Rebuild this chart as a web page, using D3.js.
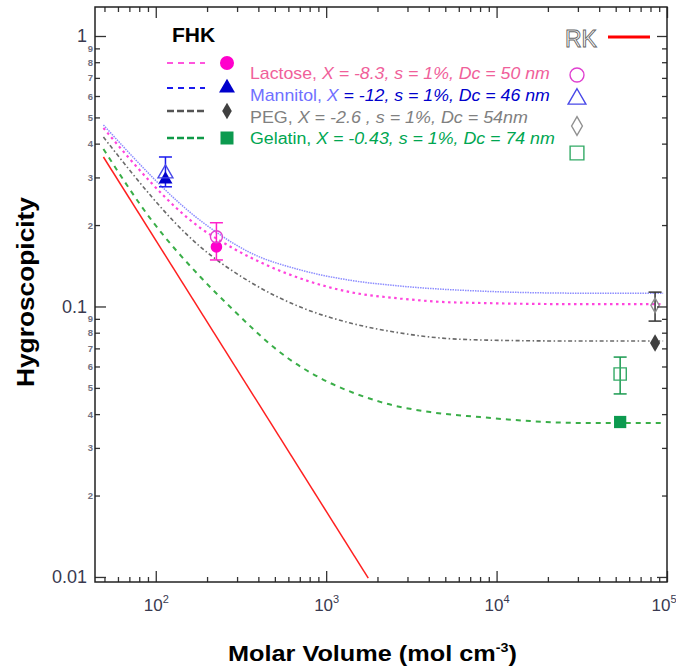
<!DOCTYPE html>
<html>
<head>
<meta charset="utf-8">
<script src="https://cdn.jsdelivr.net/npm/d3@7"></script>
<style>
  body { margin: 0; background: #fff; }
  svg { display: block; font-family: Arial, "Liberation Sans", sans-serif; }
</style>
</head>
<body>
<svg id="chart" width="676" height="669"></svg>
<script>
// ---- data (V in mol cm-3, kappa) ----
const lactoseV = [49.3, 183, 285, 705, 1384, 2720, 4670, 8020, 30900, 94900];
const lactoseK = [0.457, 0.195, 0.164, 0.127, 0.113, 0.107, 0.104, 0.103, 0.102, 0.102];
const mannitolV = [49.3, 190, 359, 705, 1384, 2720, 8020, 30900, 94900];
const mannitolK = [0.469, 0.204, 0.158, 0.1365, 0.125, 0.119, 0.114, 0.112, 0.112];
const pegV = [49.3, 183, 359, 705, 1384, 2720, 4080, 8020, 30900, 94900];
const pegK = [0.423, 0.166, 0.123, 0.0995, 0.0869, 0.0798, 0.0771, 0.0752, 0.0745, 0.0745];
const gelatinV = [49.3, 97, 183, 285, 516, 2075, 4080, 8020, 15740, 30900, 94900];
const gelatinK = [0.382, 0.204, 0.1285, 0.0971, 0.069, 0.0444, 0.0407, 0.039, 0.0377, 0.0371, 0.0371];
const rkV = [49.3, 1766];
const rkK = [0.357, 0.0099];

// measured (open) and FHK (filled) points
const pointNames = ["Lactose", "Mannitol", "PEG", "Gelatin"];
const pointV = [227, 114, 85100, 53100];
const openK = [0.181, 0.31, 0.101, 0.0563];
const openLo = [0.1486, 0.277, 0.0883, 0.0475];
const openHi = [0.204, 0.357, 0.113, 0.065];
const filledK = [0.166, 0.295, 0.0733, 0.0374];

const legendLabels = [
  [["Lactose, ", 0], ["X = -8.3, s = 1%, Dc = 50 nm", 1]],
  [["Mannitol, ", 0], ["X", 1], [" = -12, s = 1%, Dc = 46 nm", 2]],
  [["PEG, ", 0], ["X = -2.6 , s = 1%, Dc = 54nm", 1]],
  [["Gelatin, ", 0], ["X = -0.43, s = 1%, Dc = 74 nm", 1]]
];

const xMajor = [100, 1000, 10000, 100000];
const yMajor = [0.01, 0.1, 1];

// ---- styles ----
const svg = d3.select("#chart");
const x = d3.scaleLog().domain([44, 1e5]).range([95, 667]);
const y = d3.scaleLog().domain([0.00958, 1.28]).range([582, 7]);

const series = [
  { v: lactoseV, k: lactoseK, color: "#ff44dd", w: 2.2, dash: "2.5,3.5" },
  { v: mannitolV, k: mannitolK, color: "#8c8cff", w: 1.5, dash: "1.5,1" },
  { v: pegV, k: pegK, color: "#6a6a6a", w: 1.6, dash: "4,2.5,1.5,2.5" },
  { v: gelatinV, k: gelatinK, color: "#3aae48", w: 2, dash: "5,5" },
  { v: rkV, k: rkK, color: "#ff2020", w: 1.5, dash: null }
];
const markerTypes = [d3.symbolCircle, d3.symbolTriangle, d3.symbolDiamond, d3.symbolSquare];
const filledColor = ["#ff00cc", "#0000cc", "#404040", "#0c9a4f"];
const openColor = ["#e040d0", "#4848e8", "#909090", "#33aa66"];
const errColor = ["#ff22cc", "#1a1aee", "#333333", "#1a9a50"];
const filledSize = [105, 85, 90, 150];
const openSize = [113, 97, 60, 150];
const textColors = [
  ["#f0609a", "#f0609a"],
  ["#7070ff", "#7070ff", "#0000cc"],
  ["#808080", "#808080"],
  ["#00a651", "#00a651"]
];

// minor ticks
const xMinor = [];
[10, 100, 1000, 10000].forEach(d => { for (let i = 2; i <= 9; i++) if (d * i > 44) xMinor.push(d * i); });
const yMinor = [];
[0.01, 0.1].forEach(d => { for (let i = 2; i <= 9; i++) yMinor.push(d * i); });

// ---- curves ----
const line = d3.line().x(d => x(d[0])).y(d => y(d[1])).curve(d3.curveMonotoneX);
const curveG = svg.append("g").attr("fill", "none");
series.forEach(s => {
  curveG.append("path")
    .attr("d", line(s.v.map((v, i) => [v, s.k[i]])))
    .attr("stroke", s.color)
    .attr("stroke-width", s.w)
    .attr("stroke-dasharray", s.dash);
});

// ---- points ----
const ptG = svg.append("g");
pointV.forEach((v, i) => {
  const px = x(v);
  // error bar on the measured point
  ptG.append("line").attr("x1", px).attr("x2", px)
    .attr("y1", y(openHi[i])).attr("y2", y(openLo[i]))
    .attr("stroke", errColor[i]).attr("stroke-width", 1.5);
  [openHi[i], openLo[i]].forEach(e => {
    ptG.append("line").attr("x1", px - 6.5).attr("x2", px + 6.5)
      .attr("y1", y(e)).attr("y2", y(e))
      .attr("stroke", errColor[i]).attr("stroke-width", 1.5);
  });
  ptG.append("path")
    .attr("d", d3.symbol().type(markerTypes[i]).size(filledSize[i])())
    .attr("transform", `translate(${px},${y(filledK[i])})`)
    .attr("fill", filledColor[i]);
  ptG.append("path")
    .attr("d", d3.symbol().type(markerTypes[i]).size(openSize[i])())
    .attr("transform", `translate(${px},${y(openK[i])})`)
    .attr("fill", "none").attr("stroke", openColor[i]).attr("stroke-width", 1.4);
});

// ---- axes (ticks inside the frame) ----
function styleAxis(g) {
  g.select(".domain").remove();
  g.selectAll(".tick line").attr("stroke", "#333").attr("stroke-width", 1.3);
}
const axG = svg.append("g");
axG.append("g").attr("transform", "translate(0,582)")
  .call(d3.axisBottom(x).tickValues(xMinor).tickSize(-5).tickFormat(""))
  .call(styleAxis);
const xb = axG.append("g").attr("transform", "translate(0,582)")
  .call(d3.axisBottom(x).tickValues(xMajor).tickSize(-11).tickFormat(""))
  .call(styleAxis);
xb.selectAll(".tick text")
  .attr("y", 29).attr("dy", 0)
  .style("font-size", "17px").attr("fill", "#3a3a50")
  .attr("text-anchor", d => d === 1e5 ? "end" : "middle")
  .attr("x", d => d === 1e5 ? 9 : 0)
  .call(t => {
    t.append("tspan").text("10");
    t.append("tspan").attr("dy", -8).style("font-size", "11px")
      .text(d => Math.round(Math.log10(d)));
  });
axG.append("g").attr("transform", "translate(0,7)")
  .call(d3.axisTop(x).tickValues(xMinor).tickSize(-5).tickFormat(""))
  .call(styleAxis);
axG.append("g").attr("transform", "translate(0,7)")
  .call(d3.axisTop(x).tickValues(xMajor).tickSize(-11).tickFormat(""))
  .call(styleAxis);

const yl = axG.append("g").attr("transform", "translate(95,0)")
  .call(d3.axisLeft(y).tickValues(yMinor).tickSize(-5).tickPadding(2)
    .tickFormat(d => Math.round(d / Math.pow(10, Math.floor(Math.log10(d) + 1e-9)))))
  .call(styleAxis);
yl.selectAll(".tick text").attr("font-size", 9.5).attr("fill", "#707080").attr("font-weight", "bold");
const yL = axG.append("g").attr("transform", "translate(95,0)")
  .call(d3.axisLeft(y).tickValues(yMajor).tickSize(-11).tickPadding(8)
    .tickFormat(d => d === 1 ? "1" : String(d)))
  .call(styleAxis);
yL.selectAll(".tick text").attr("font-size", 18).attr("fill", "#3a3a50");

axG.append("g").attr("transform", "translate(667,0)")
  .call(d3.axisRight(y).tickValues(yMinor).tickSize(-5).tickFormat(""))
  .call(styleAxis);
axG.append("g").attr("transform", "translate(667,0)")
  .call(d3.axisRight(y).tickValues(yMajor).tickSize(-10).tickFormat(""))
  .call(styleAxis);

// frame
svg.append("rect").attr("x", 95).attr("y", 7).attr("width", 572).attr("height", 575)
  .attr("fill", "none").attr("stroke", "#222").attr("stroke-width", 1.5);

// ---- axis titles ----
svg.append("text")
  .attr("transform", "translate(34,292) rotate(-90)")
  .attr("text-anchor", "middle")
  .attr("font-size", 23).attr("font-weight", "bold")
  .attr("textLength", 190).attr("lengthAdjust", "spacingAndGlyphs")
  .text("Hygroscopicity");
const xt = svg.append("text")
  .attr("x", 228).attr("y", 661)
  .attr("font-size", 23).attr("font-weight", "bold");
xt.append("tspan").text("Molar Volume (mol cm");
xt.append("tspan").attr("dy", -9).attr("font-size", 13).text("-3");
xt.append("tspan").attr("dy", 9).text(")");
{
  const w = xt.node().getComputedTextLength();
  xt.attr("transform", `translate(228,0) scale(${289 / w},1) translate(-228,0)`);
}

// ---- legend ----
const lg = svg.append("g");
lg.append("text").attr("x", 172).attr("y", 42)
  .attr("font-size", 21).attr("font-weight", "bold").text("FHK");
const legLineColor = ["#ff55dd", "#1a1aee", "#555555", "#109a48"];
const legLineDash = ["6,5", "6,5", "7,3", "7,3"];
const legLineW = [2, 2, 2.5, 2.5];
const legY = [63, 88, 111, 138];
const legMarkSize = [154, 110, 80, 169];
const textBase = [79, 101, 123, 144];
const textWidth = [300, 300, 278, 305];
legY.forEach((ly, i) => {
  lg.append("line").attr("x1", 167).attr("x2", 205).attr("y1", ly).attr("y2", ly)
    .attr("stroke", legLineColor[i]).attr("stroke-width", legLineW[i])
    .attr("stroke-dasharray", legLineDash[i]);
  lg.append("path")
    .attr("d", d3.symbol().type(markerTypes[i]).size(legMarkSize[i])())
    .attr("transform", `translate(227,${ly})`)
    .attr("fill", filledColor[i]);
  const t = lg.append("text").attr("font-size", 16);
  legendLabels[i].forEach((p, j) => {
    t.append("tspan").text(p[0])
      .attr("fill", textColors[i][j])
      .attr("font-style", p[1] ? "italic" : "normal");
  });
  const w = t.node().getComputedTextLength();
  t.attr("transform", `translate(250,${textBase[i]}) scale(${textWidth[i] / w},1)`);
  // open marker column
  lg.append("path")
    .attr("d", d3.symbol().type(markerTypes[i]).size(openSize[i] + 40)())
    .attr("transform", `translate(577,${[75, 99, 126, 153][i]})`)
    .attr("fill", "none").attr("stroke", openColor[i]).attr("stroke-width", 1.4);
});
lg.append("text").attr("x", 565).attr("y", 47)
  .attr("font-size", 23).attr("fill", "#fff").attr("stroke", "#666").attr("stroke-width", 0.9)
  .text("RK");
lg.append("line").attr("x1", 608).attr("x2", 650).attr("y1", 37).attr("y2", 37)
  .attr("stroke", "#ff0000").attr("stroke-width", 3);
</script>
</body>
</html>
